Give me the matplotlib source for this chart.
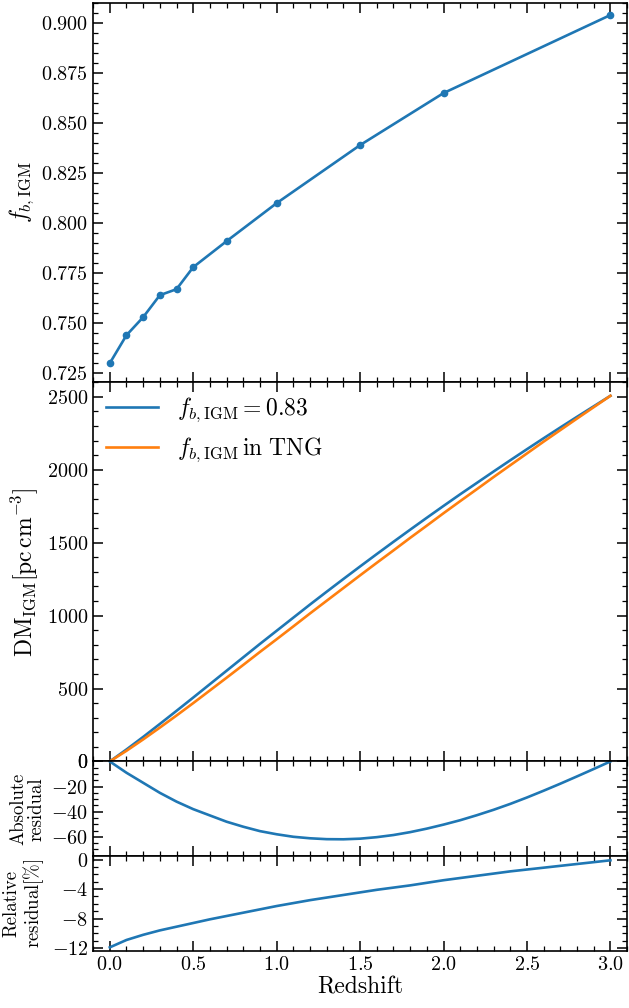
import matplotlib
matplotlib.use("Agg")
import matplotlib.pyplot as plt
from matplotlib.ticker import MultipleLocator

plt.rcParams["font.family"] = "serif"
plt.rcParams["font.serif"] = ["cmr10"]
plt.rcParams["mathtext.fontset"] = "cm"
plt.rcParams["axes.formatter.use_mathtext"] = True
plt.rcParams["xtick.labelsize"] = 14.5
plt.rcParams["ytick.labelsize"] = 14.5

# baryon fraction in the IGM from TNG snapshots
z_snap = [0.0, 0.1, 0.2, 0.3, 0.4, 0.5, 0.7, 1.0, 1.5, 2.0, 3.0]
fb_igm = [0.730, 0.744, 0.753, 0.764, 0.767, 0.778, 0.791, 0.810, 0.839, 0.865, 0.904]

# DM_IGM curves and residuals, z = 0.0 ... 3.0
z = [0.0, 0.1, 0.2, 0.3, 0.4, 0.5, 0.6, 0.7, 0.8, 0.9, 1.0,
     1.1, 1.2, 1.3, 1.4, 1.5, 1.6, 1.7, 1.8, 1.9, 2.0,
     2.1, 2.2, 2.3, 2.4, 2.5, 2.6, 2.7, 2.8, 2.9, 3.0]
dm_const = [0, 82, 168, 257, 347, 438, 530, 622, 714, 806, 896,
            986, 1076, 1164, 1251, 1337, 1422, 1506, 1589, 1671, 1752,
            1832, 1910, 1988, 2065, 2141, 2216, 2290, 2363, 2435, 2507]
dm_tng = [0, 73, 151, 232, 315, 400, 487, 574, 662, 751, 838,
          926, 1015, 1102, 1189, 1276, 1362, 1447, 1533, 1617, 1702,
          1785, 1867, 1950, 2031, 2112, 2193, 2272, 2351, 2429, 2507]
res_abs = [0, -9, -17, -25, -32, -38, -43, -48, -52, -55.5, -58,
           -60, -61.2, -61.9, -62, -61.5, -60.3, -58.6, -56.3, -53.5, -50.3,
           -46.8, -42.8, -38.5, -33.8, -28.7, -23.3, -17.7, -11.9, -6.0, 0]
res_rel = [-11.9, -10.9, -10.2, -9.6, -9.1, -8.6, -8.1, -7.65, -7.2, -6.75, -6.3,
           -5.9, -5.5, -5.15, -4.8, -4.45, -4.1, -3.8, -3.5, -3.15, -2.8,
           -2.5, -2.2, -1.9, -1.6, -1.35, -1.1, -0.85, -0.6, -0.35, -0.1]

fig, axs = plt.subplots(4, 1, sharex=True, figsize=(6.29, 10.08), dpi=100,
                        gridspec_kw={'height_ratios': [4, 4, 1, 1], 'hspace': 0})
fig.subplots_adjust(left=0.148, right=0.997, top=0.997, bottom=0.0565)

lw = 1.9
ax = axs[0]
ax.plot(z_snap, fb_igm, '-o', color='C0', lw=lw, ms=4.5)
ax.set_ylabel(r'$f_{b,\mathrm{IGM}}$', fontsize=17)
ax.set_ylim(0.7205, 0.910)
ax.yaxis.set_major_locator(MultipleLocator(0.025))
ax.yaxis.set_minor_locator(MultipleLocator(0.005))

ax = axs[1]
ax.plot(z, dm_const, color='C0', lw=lw, label=r'$f_{b,\mathrm{IGM}} = 0.83$')
ax.plot(z, dm_tng, color='C1', lw=lw, label=r'$f_{b,\mathrm{IGM}}\,\mathrm{in\ TNG}$')
ax.set_ylabel(r'$\mathrm{DM_{IGM}[pc\,cm^{-3}]}$', fontsize=17)
ax.set_ylim(0, 2600)
ax.yaxis.set_major_locator(MultipleLocator(500))
ax.yaxis.set_minor_locator(MultipleLocator(100))
ax.legend(loc='upper left', frameon=False, fontsize=17, handlelength=2.2,
          borderaxespad=0.15)

ax = axs[2]
ax.plot(z, res_abs, color='C0', lw=lw)
ax.set_ylabel('Absolute\nresidual', fontsize=13.5, linespacing=1.05)
ax.set_ylim(-75.5, 0)
ax.yaxis.set_major_locator(MultipleLocator(20))
ax.yaxis.set_minor_locator(MultipleLocator(5))

ax = axs[3]
ax.plot(z, res_rel, color='C0', lw=lw)
ax.set_ylabel('Relative\nresidual$[\\%]$', fontsize=13.5, linespacing=1.05)
ax.set_ylim(-12.4, 0.45)
ax.yaxis.set_major_locator(MultipleLocator(4))
ax.yaxis.set_minor_locator(MultipleLocator(1))
ax.set_xlabel('Redshift', fontsize=17, labelpad=2)

ax.set_xlim(-0.1, 3.1)
ax.xaxis.set_major_locator(MultipleLocator(0.5))
ax.xaxis.set_minor_locator(MultipleLocator(0.1))

for a in axs:
    a.tick_params(which='both', direction='in', top=True, right=True)
    a.tick_params(which='major', length=7, width=1.1)
    a.tick_params(which='minor', length=3.5, width=0.9)
    for s in a.spines.values():
        s.set_linewidth(1.2)

plt.savefig('out.png', dpi=100)
